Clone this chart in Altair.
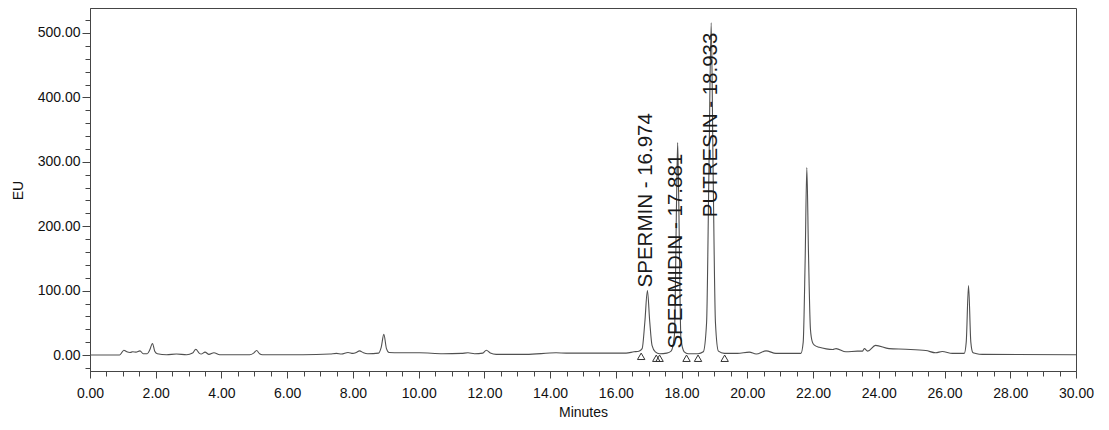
import altair as alt
import pandas as pd

# Chromatogram trace (minutes, EU)
times = [0.00, 0.90, 0.97, 1.03, 1.12, 1.22, 1.30, 1.40, 1.52, 1.62, 1.74, 1.82, 1.90, 1.97, 2.05,
         2.33, 2.63, 2.94, 3.12, 3.22, 3.32, 3.38, 3.50, 3.62, 3.77, 3.95, 4.86, 4.98, 5.07, 5.16,
         5.25, 6.48, 7.30, 7.50, 7.65, 7.85, 8.00, 8.10, 8.20, 8.32, 8.45, 8.78, 8.86, 8.94, 9.02,
         9.10, 9.42, 10.03, 10.74, 11.30, 11.50, 11.70, 11.95, 12.06, 12.18, 12.36, 13.27, 14.18,
         14.49, 15.30, 16.31, 16.55, 16.70, 16.80, 16.88, 16.96, 17.03, 17.10, 17.20, 17.33, 17.55,
         17.68, 17.78, 17.85, 17.88, 17.91, 17.98, 18.08, 18.20, 18.50, 18.66, 18.76, 18.83, 18.90,
         18.96, 19.03, 19.12, 19.30, 19.70, 20.06, 20.27, 20.57, 20.87, 21.63, 21.70, 21.76, 21.81,
         21.86, 21.92, 21.98, 22.04, 22.19, 22.40, 22.60, 22.70, 23.00, 23.35, 23.50, 23.56, 23.66,
         23.90, 24.31, 24.82, 25.43, 25.73, 25.93, 26.24, 26.60, 26.66, 26.73, 26.80, 26.86, 26.95,
         27.15, 30.00]
signal = [0, 0, 4, 7.5, 5, 4, 5, 4.5, 6.5, 2, 2, 8, 18, 6, 2,
          0.5, 1.5, 0.5, 3, 9, 3, 1.5, 4.5, 1, 3.5, 0.5, 0.5, 3, 7, 2,
          0.5, 0.5, 1.5, 2.5, 1.5, 4, 2.5, 4, 6.5, 3.5, 2, 3, 12, 32, 10,
          4, 3.5, 3.5, 2, 2.5, 3.5, 2, 3, 7.5, 3, 1, 1, 3.5,
          3, 3, 3, 5, 6, 10, 50, 100, 52, 15, 5, 2, 3,
          6, 30, 250, 330, 250, 25, 5, 2, 2, 5, 50, 280, 516,
          280, 50, 6, 2.5, 2.5, 4.5, 1.5, 6.5, 2.5, 2.5, 20, 150, 291,
          160, 40, 20, 15.5, 12, 9.5, 8.5, 10, 5, 6, 6, 10, 6,
          15, 10, 9, 7, 3.5, 5.5, 2.5, 2.5, 20, 108, 20, 4, 2.5,
          1, 0.5]

# Peak annotations
label_text = ["SPERMIN - 16.974", "SPERMIDIN - 17.881", "PUTRESIN - 18.933"]
label_time = [16.91, 17.82, 18.89]
label_eu = [105, 10, 214]

# Integration start / end markers
marker_time = [16.77, 17.23, 17.33, 18.15, 18.50, 19.31]
marker_eu = [-2, -5, -5, -5, -5, -5]

# Axis ticks
x_ticks = [i / 2 for i in range(0, 61)]
y_ticks = list(range(-20, 521, 20))

trace = pd.DataFrame({"t": times, "eu": signal})
labels = pd.DataFrame({"t": label_time, "eu": label_eu, "txt": label_text})
markers = pd.DataFrame({"t": marker_time, "eu": marker_eu})

FONT = "Liberation Sans"
GRAY = "#454545"

xscale = alt.Scale(domain=[0, 30], nice=False, zero=False)
yscale = alt.Scale(domain=[-24.8, 538.8], nice=False, zero=False)

x_axis = alt.Axis(
    values=x_ticks,
    tickCount=200,
    labelExpr="datum.value % 2 === 0 ? format(datum.value, '.2f') : ''",
    title="Minutes",
    tickSize={"condition": {"test": "datum.value % 2 === 0", "value": 7}, "value": 5},
    labelPadding=8,
    labelFlush=False,
    labelOverlap=False,
    titleX=493,
    titleY=41,
    titleAlign="center",
    titleBaseline="middle",
)
y_axis = alt.Axis(
    values=y_ticks,
    tickCount=200,
    labelExpr="datum.value % 100 === 0 ? format(datum.value, '.2f') : ''",
    title="EU",
    tickSize={"condition": {"test": "datum.value % 100 === 0", "value": 8}, "value": 5},
    labelPadding=2,
    labelFlush=False,
    labelOverlap=False,
    titleAngle=270,
    titleX=-71.5,
    titleY=182,
    titleAlign="center",
    titleBaseline="middle",
)

line = alt.Chart(trace).mark_line(
    color="#505050", strokeWidth=1.1, interpolate="monotone"
).encode(
    x=alt.X("t:Q", scale=xscale, axis=x_axis),
    y=alt.Y("eu:Q", scale=yscale, axis=y_axis),
)

pts = alt.Chart(markers).mark_point(
    shape="triangle-up", filled=False, size=55, strokeWidth=1, color="#333333", opacity=1
).encode(
    x=alt.X("t:Q", scale=xscale),
    y=alt.Y("eu:Q", scale=yscale),
)

txt = alt.Chart(labels).mark_text(
    angle=270, align="left", baseline="middle", fontSize=20.5, font=FONT, color="#1a1a1a"
).encode(
    x=alt.X("t:Q", scale=xscale),
    y=alt.Y("eu:Q", scale=yscale),
    text="txt:N",
)

chart = alt.layer(line, txt, pts).properties(
    width=986,
    height=363,
    autosize=alt.AutoSizeParams(type="none"),
    padding={"left": 82, "top": 0, "right": 20, "bottom": 55},
).configure_view(
    stroke=GRAY, strokeWidth=1
).configure_axis(
    grid=False,
    domainColor=GRAY,
    tickColor=GRAY,
    labelColor="#111111",
    titleColor="#111111",
    labelFont=FONT,
    titleFont=FONT,
    labelFontSize=14,
    titleFontSize=14,
    titleFontWeight="normal",
)

chart.save("out.html", embed_options={"renderer": "svg", "actions": False})
